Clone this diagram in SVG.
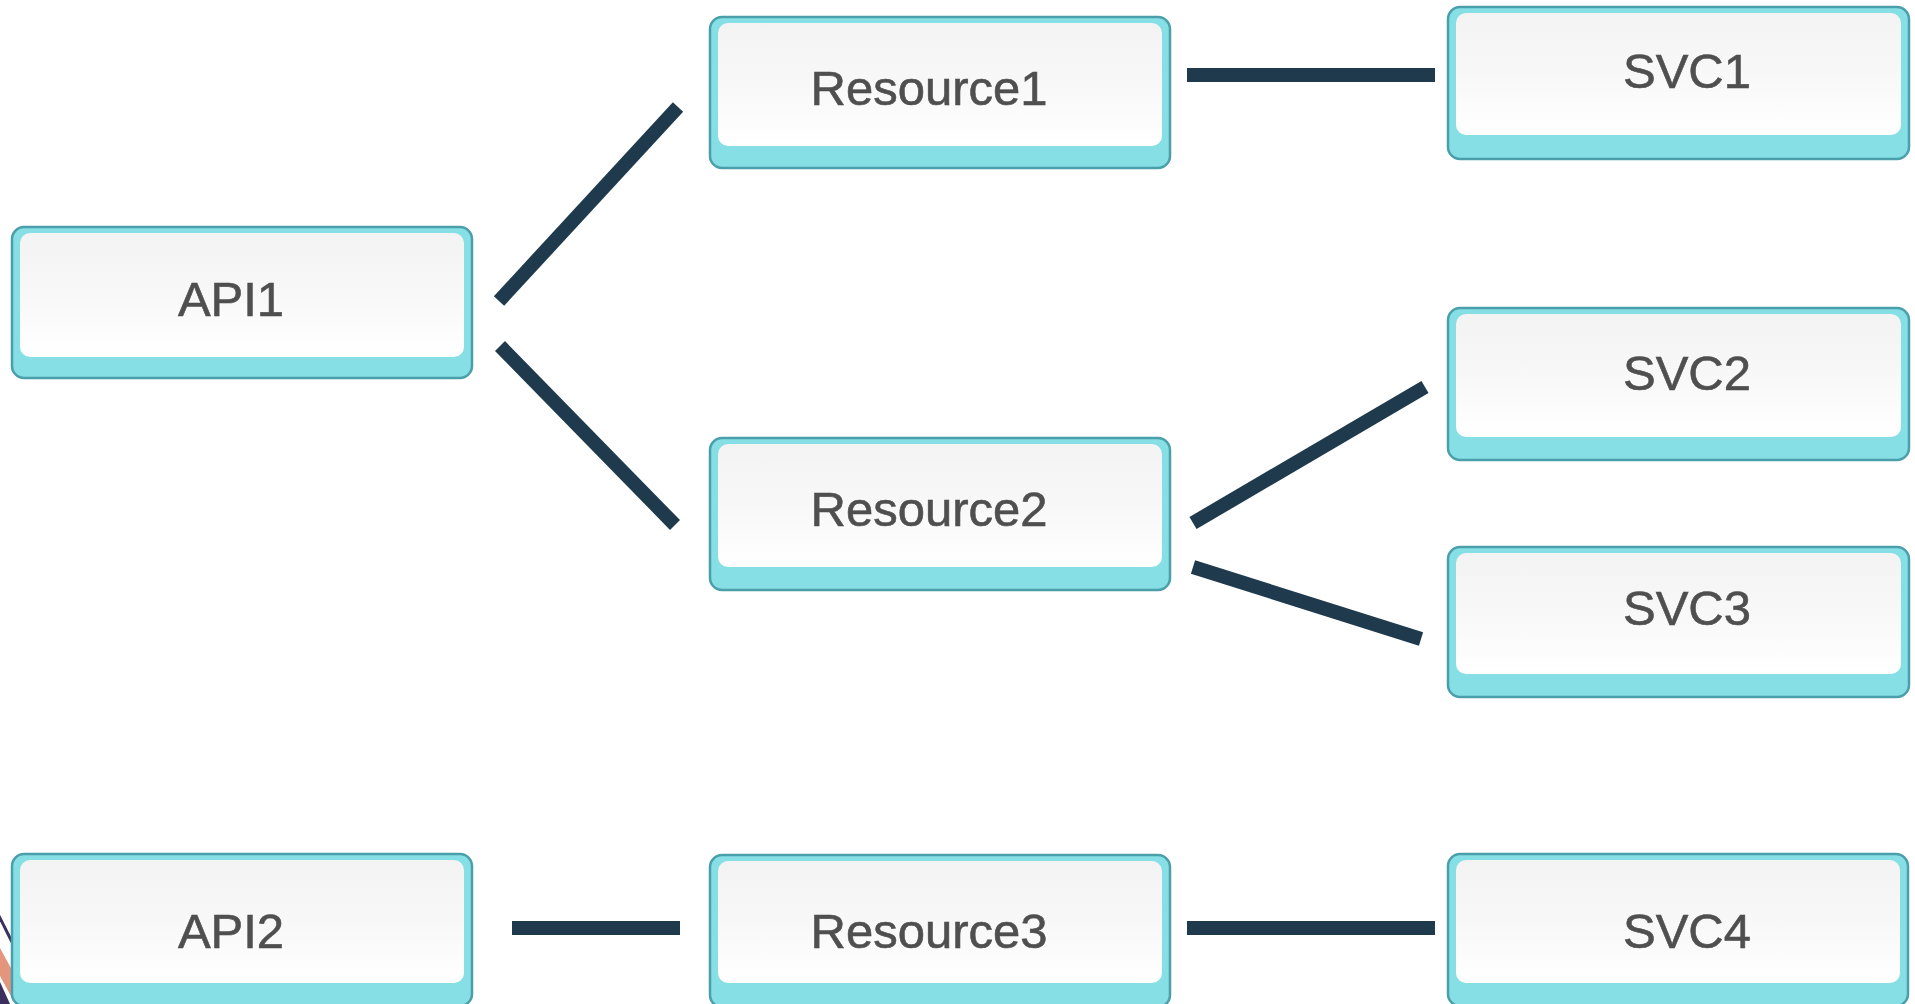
<svg xmlns="http://www.w3.org/2000/svg" width="1915" height="1004" viewBox="0 0 1915 1004">
<style>
.outer{fill:#86dfe5;stroke:#4a9fab;stroke-width:2.5}
.inner{fill:url(#wg)}
.lbl{font-family:"Liberation Sans",Arial,sans-serif;font-size:49px;fill:#4f4f4f;stroke:#4f4f4f;stroke-width:0.6;text-anchor:middle}
.conn{stroke:#1f3a4d;stroke-width:14;stroke-linecap:butt;fill:none}
</style>
<defs>
<linearGradient id="wg" x1="0" y1="0" x2="0" y2="1">
<stop offset="0" stop-color="#f3f3f3"/>
<stop offset="0.5" stop-color="#f8f8f8"/>
<stop offset="1" stop-color="#ffffff"/>
</linearGradient>
</defs>
<rect width="1915" height="1004" fill="#ffffff"/>
<g id="decoration">
<line x1="-2" y1="914" x2="12" y2="942" stroke="#3a2f5e" stroke-width="3"/>
<polygon points="0,948 12,970 12,998 0,976" fill="#e4957e"/>
<polygon points="0,982 10,1004 0,1004" fill="#3a2f5e"/>
</g>
<g id="connectors">
<line class="conn" x1="499" y1="301" x2="678" y2="107"/>
<line class="conn" x1="500" y1="346" x2="675" y2="525"/>
<line class="conn" x1="1187" y1="75" x2="1435" y2="75"/>
<line class="conn" x1="1193" y1="523" x2="1425" y2="387"/>
<line class="conn" x1="1193" y1="567" x2="1421" y2="639"/>
<line class="conn" x1="512" y1="928" x2="680" y2="928"/>
<line class="conn" x1="1187" y1="928" x2="1435" y2="928"/>
</g>
<g id="API1">
<rect class="outer" x="12" y="227" width="460" height="151" rx="12"/>
<rect class="inner" x="20" y="233" width="444" height="124" rx="10"/>
<text class="lbl" x="231" y="316">API1</text>
</g>
<g id="Resource1">
<rect class="outer" x="710" y="17" width="460" height="151" rx="12"/>
<rect class="inner" x="718" y="23" width="444" height="123" rx="10"/>
<text class="lbl" x="929" y="105">Resource1</text>
</g>
<g id="SVC1">
<rect class="outer" x="1448" y="7" width="461" height="152" rx="12"/>
<rect class="inner" x="1456" y="13" width="445" height="122" rx="10"/>
<text class="lbl" x="1687" y="88">SVC1</text>
</g>
<g id="Resource2">
<rect class="outer" x="710" y="438" width="460" height="152" rx="12"/>
<rect class="inner" x="718" y="444" width="444" height="123" rx="10"/>
<text class="lbl" x="929" y="526">Resource2</text>
</g>
<g id="SVC2">
<rect class="outer" x="1448" y="308" width="461" height="152" rx="12"/>
<rect class="inner" x="1456" y="314" width="445" height="123" rx="10"/>
<text class="lbl" x="1687" y="390">SVC2</text>
</g>
<g id="SVC3">
<rect class="outer" x="1448" y="547" width="461" height="150" rx="12"/>
<rect class="inner" x="1456" y="553" width="445" height="121" rx="10"/>
<text class="lbl" x="1687" y="625">SVC3</text>
</g>
<g id="API2">
<rect class="outer" x="12" y="854" width="460" height="152" rx="12"/>
<rect class="inner" x="20" y="860" width="444" height="123" rx="10"/>
<text class="lbl" x="231" y="948">API2</text>
</g>
<g id="Resource3">
<rect class="outer" x="710" y="855" width="460" height="152" rx="12"/>
<rect class="inner" x="718" y="861" width="444" height="122" rx="10"/>
<text class="lbl" x="929" y="948">Resource3</text>
</g>
<g id="SVC4">
<rect class="outer" x="1448" y="854" width="460" height="152" rx="12"/>
<rect class="inner" x="1456" y="860" width="444" height="123" rx="10"/>
<text class="lbl" x="1687" y="948">SVC4</text>
</g>
</svg>
